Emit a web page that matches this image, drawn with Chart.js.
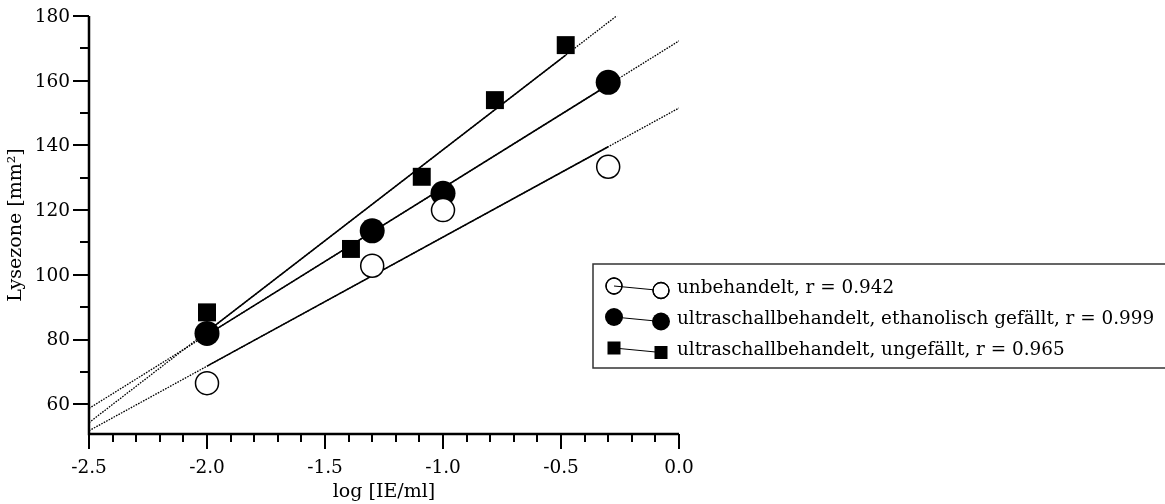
<!DOCTYPE html>
<html>
<head>
<meta charset="utf-8">
<script src="https://cdn.jsdelivr.net/npm/chart.js@4"></script>
<style>
  html, body { margin: 0; padding: 0; background: #fff; }
  #wrap { width: 1165px; height: 504px; position: relative; }
</style>
</head>
<body>
<div id="wrap"><canvas id="lyseChart"></canvas></div>
<script>
// Lysezone gegen log Konzentration, drei Präparationen
const xCircles = [-2.0, -1.3, -1.0, -0.3];
const yUntreated = [66.5, 102.8, 120.0, 133.4];
const yEthanol = [81.9, 113.6, 125.2, 159.5];
const xSquares = [-2.0, -1.39, -1.09, -0.78, -0.48];
const yUnprecip = [88.4, 108.0, 130.3, 154.0, 171.0];

const seriesLabels = [
  'unbehandelt, r = 0.942',
  'ultraschallbehandelt, ethanolisch gefällt, r = 0.999',
  'ultraschallbehandelt, ungefällt, r = 0.965'
];
const xTicks = [-2.5, -2.0, -1.5, -1.0, -0.5, 0.0];
const yTicks = [60, 80, 100, 120, 140, 160, 180];
const xRange = [-2.5, 0];
const yRange = [50.8, 180];

const serif = '"DejaVu Serif", serif';

// least squares line through a series
function fit(xs, ys) {
  const n = xs.length;
  const mx = xs.reduce((a, b) => a + b) / n;
  const my = ys.reduce((a, b) => a + b) / n;
  let sxy = 0, sxx = 0;
  xs.forEach((x, i) => { sxy += (x - mx) * (ys[i] - my); sxx += (x - mx) ** 2; });
  const slope = sxy / sxx;
  return x => my + slope * (x - mx);
}

const pts = (xs, ys) => xs.map((x, i) => ({ x: x, y: ys[i] }));

// solid over the measured range, dotted across the whole axis
function fitLines(xs, ys) {
  const f = fit(xs, ys);
  const x0 = xs[0], x1 = xs[xs.length - 1];
  return [
    {
      data: [{ x: x0, y: f(x0) }, { x: x1, y: f(x1) }],
      showLine: true, borderColor: '#000', borderWidth: 1.5,
      pointRadius: 0, order: 2
    },
    {
      data: [{ x: xRange[0], y: f(xRange[0]) }, { x: xRange[1], y: f(xRange[1]) }],
      showLine: true, borderColor: '#000', borderWidth: 1.3,
      borderDash: [1.6, 1.2], pointRadius: 0, order: 3
    }
  ];
}

const markerSets = [
  {
    data: pts(xCircles, yUntreated), pointStyle: 'circle', pointRadius: 11.5,
    pointBackgroundColor: '#fff', pointBorderColor: '#000', pointBorderWidth: 1.5, order: 0
  },
  {
    data: pts(xCircles, yEthanol), pointStyle: 'circle', pointRadius: 12.5,
    pointBackgroundColor: '#000', pointBorderColor: '#000', pointBorderWidth: 0, order: 0
  },
  {
    data: pts(xSquares, yUnprecip), pointStyle: 'rect', pointRadius: 12.7,
    pointBackgroundColor: '#000', pointBorderColor: '#000', pointBorderWidth: 0, order: 0
  }
];

// axes, tick marks, titles and boxed legend
const axisPainter = {
  id: 'axisPainter',
  afterDraw(chart) {
    const { ctx, chartArea: a, scales: { x, y } } = chart;
    ctx.save();
    ctx.strokeStyle = '#000';
    ctx.fillStyle = '#000';
    ctx.lineCap = 'butt';

    ctx.lineWidth = 2.5;
    ctx.beginPath();
    ctx.moveTo(a.left, a.top);
    ctx.lineTo(a.left, a.bottom);
    ctx.lineTo(a.right, a.bottom);
    ctx.stroke();

    ctx.lineWidth = 2;
    for (let i = 0; i <= 25; i++) {
      const px = Math.round(x.getPixelForValue(xRange[0] + i * 0.1));
      const len = i % 5 === 0 ? 15 : 8;
      ctx.beginPath();
      ctx.moveTo(px, a.bottom);
      ctx.lineTo(px, a.bottom + len);
      ctx.stroke();
    }
    for (let v = 60; v <= 180; v += 10) {
      const py = Math.round(y.getPixelForValue(v));
      const len = v % 20 === 0 ? 16 : 9;
      ctx.beginPath();
      ctx.moveTo(a.left, py);
      ctx.lineTo(a.left - len, py);
      ctx.stroke();
    }

    ctx.font = '18.5px ' + serif;
    ctx.textAlign = 'center';
    ctx.textBaseline = 'alphabetic';
    xTicks.forEach(v => ctx.fillText(v.toFixed(1), x.getPixelForValue(v), 473));
    ctx.textAlign = 'right';
    ctx.textBaseline = 'middle';
    yTicks.forEach(v => ctx.fillText(String(v), a.left - 19, y.getPixelForValue(v) + 1));

    ctx.font = '19px ' + serif;
    ctx.textAlign = 'center';
    ctx.fillText('log [IE/ml]', (a.left + a.right) / 2, 492);
    ctx.save();
    ctx.translate(16, (a.top + a.bottom) / 2);
    ctx.rotate(-Math.PI / 2);
    ctx.fillText('Lysezone [mm²]', 0, 0);
    ctx.restore();

    // legend box
    ctx.lineWidth = 1.5;
    ctx.strokeStyle = '#333';
    ctx.strokeRect(593, 264, 600, 104);

    const rows = [287, 318, 349];
    const styles = [
      { pointStyle: 'circle', radius: 8, fill: false },
      { pointStyle: 'circle', radius: 9, fill: true },
      { pointStyle: 'rect', radius: 9.2, fill: true }
    ];
    rows.forEach((ry, i) => {
      const s = styles[i];
      const x1 = 614, y1 = ry - 1, x2 = 661, y2 = ry + 3.5;
      ctx.strokeStyle = '#000';
      ctx.lineWidth = 1;
      ctx.beginPath();
      ctx.moveTo(x1, y1);
      ctx.lineTo(x2, y2);
      ctx.stroke();
      [[x1, y1, false], [x2, y2, true]].forEach(([px, py, second]) => {
        ctx.fillStyle = s.fill ? '#000' : (second ? '#fff' : 'rgba(0,0,0,0)');
        ctx.strokeStyle = '#000';
        ctx.lineWidth = s.fill ? 0.01 : 1.3;
        Chart.helpers.drawPoint(ctx, { pointStyle: s.pointStyle, radius: s.radius, borderWidth: ctx.lineWidth }, px, py);
        if (!s.fill) {
          ctx.beginPath();
          ctx.arc(px, py, s.radius, 0, Math.PI * 2);
          ctx.stroke();
        }
      });
      ctx.fillStyle = '#000';
      ctx.font = '18.4px ' + serif;
      ctx.textAlign = 'left';
      ctx.textBaseline = 'middle';
      ctx.fillText(seriesLabels[i], 677, ry + 1);
    });
    ctx.restore();
  }
};

new Chart(document.getElementById('lyseChart'), {
  type: 'scatter',
  data: {
    datasets: [
      ...markerSets,
      ...fitLines(xCircles, yUntreated),
      ...fitLines(xCircles, yEthanol),
      ...fitLines(xSquares, yUnprecip)
    ]
  },
  options: {
    responsive: true,
    maintainAspectRatio: false,
    animation: false,
    devicePixelRatio: 1,
    layout: { padding: { left: 89, right: 486, top: 16, bottom: 70 } },
    scales: {
      x: { type: 'linear', min: xRange[0], max: xRange[1], display: false },
      y: { type: 'linear', min: yRange[0], max: yRange[1], display: false }
    },
    plugins: {
      legend: { display: false },
      tooltip: { enabled: false }
    }
  },
  plugins: [axisPainter]
});
</script>
</body>
</html>
